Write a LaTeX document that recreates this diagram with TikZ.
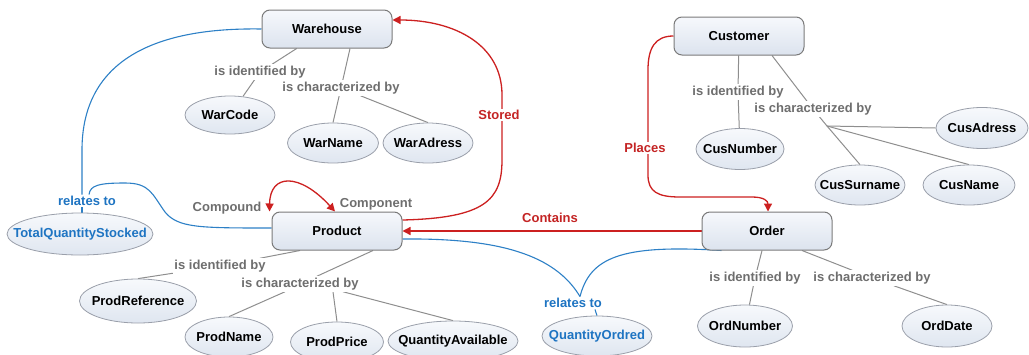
\documentclass[tikz,border=0pt]{standalone}
\usepackage{fontspec}
\setmainfont{Liberation Sans}
\usetikzlibrary{shapes.geometric,arrows.meta,backgrounds}
\definecolor{cborder}{HTML}{7A7A7A}
\definecolor{ctop}{HTML}{F6F8FC}
\definecolor{cbot}{HTML}{DCE3EE}
\definecolor{eborder}{HTML}{9A9FAA}
\definecolor{etop}{HTML}{F7F9FC}
\definecolor{ebot}{HTML}{DFE6F0}
\definecolor{lgray}{HTML}{6E6E6E}
\definecolor{lline}{HTML}{8E8E8E}
\definecolor{rline}{HTML}{CC2020}
\definecolor{rtext}{HTML}{C42424}
\definecolor{bline}{HTML}{2D80C6}
\definecolor{btext}{HTML}{1E74C2}
\begin{document}
\begin{tikzpicture}[x=1pt,y=-1pt,
  font=\fontsize{13}{15}\selectfont\bfseries,
  concept/.style={draw=cborder, line width=1pt, rounded corners=8pt, top color=ctop, bottom color=cbot, minimum width=130pt, minimum height=38pt, inner sep=0pt},
  attr/.style={ellipse, draw=eborder, line width=0.8pt, top color=etop, bottom color=ebot, inner xsep=-20pt, inner ysep=0pt, minimum height=40pt},
  lab/.style={text=lgray, fill=white, inner sep=1.5pt},
  plainlab/.style={text=lgray, inner sep=1.5pt},
  rlab/.style={text=rtext, fill=white, inner sep=1.5pt},
  blab/.style={text=btext, fill=white, inner sep=1.5pt},
  link/.style={draw=lline, line width=1pt},
  rlink/.style={draw=rline, line width=1.3pt, -{Triangle[length=8pt,width=8pt]}},
  blink/.style={draw=bline, line width=1.1pt},
]
\useasboundingbox (0,0) rectangle (1029,354);

% concepts
\node[concept] (warehouse) at (327,29) {Warehouse};
\node[concept] (customer) at (739,36) {Customer};
\node[concept] (product) at (337,231) {Product};
\node[concept] (order) at (767,231) {Order};

% attributes
\node[attr, minimum width=90pt, minimum height=38pt] (warcode) at (230,115) {WarCode};
\node[attr, minimum width=91pt] (warname) at (333,143) {WarName};
\node[attr, minimum width=90pt] (waradress) at (428,143) {WarAdress};
\node[attr, minimum width=88pt, minimum height=41pt] (cusnumber) at (740,149) {CusNumber};
\node[attr, minimum width=92pt, minimum height=41pt] (cusadress) at (982,128) {CusAdress};
\node[attr, minimum width=90pt] (cussurname) at (860,185) {CusSurname};
\node[attr, minimum width=92pt] (cusname) at (969,185) {CusName};
\node[attr, minimum width=146pt, minimum height=42pt, text=btext] (tqs) at (80,234) {TotalQuantityStocked};
\node[attr, minimum width=117pt, minimum height=44pt] (prodref) at (138,301) {ProdReference};
\node[attr, minimum width=88pt] (prodname) at (229,337) {ProdName};
\node[attr, minimum width=93pt] (prodprice) at (337,342) {ProdPrice};
\node[attr, minimum width=130pt] (qa) at (453,341) {QuantityAvailable};
\node[attr, minimum width=110pt, text=btext] (qo) at (597,336) {QuantityOrdred};
\node[attr, minimum width=95pt, minimum height=42pt] (ordnumber) at (745,326) {OrdNumber};
\node[attr, minimum width=90pt, minimum height=42pt] (orddate) at (947,326) {OrdDate};

% linking phrases
\node[lab] (lwi) at (260,72) {is identified by};
\node[lab] (lwc) at (341,88) {is characterized by};
\node[lab] (lci) at (738,92) {is identified by};
\node[lab] (lcc) at (813,109) {is characterized by};
\node[lab] (lpi) at (220,266) {is identified by};
\node[lab] (lpc) at (300,284) {is characterized by};
\node[lab] (loi) at (755,278) {is identified by};
\node[lab] (loc) at (872,278) {is characterized by};
\node[rlab] (lstored) at (499,115) {Stored};
\node[rlab] (lplaces) at (645,148) {Places};
\node[rlab] (lcontains) at (550,218) {Contains};
\node[plainlab] (lcompound) at (227,208) {Compound};
\node[plainlab] (lcomponent) at (376,204) {Component};
\node[blab] (lrel1) at (87,201) {relates to};
\node[blab] (lrel2) at (573,303) {relates to};
\coordinate (cbr) at (827,126);

\begin{pgfonlayer}{background}
% gray links
\draw[link] (warehouse) -- (lwi) -- (warcode);
\draw[link] ([xshift=23pt]warehouse.south) -- (lwc);
\draw[link] (lwc) -- (warname.north);
\draw[link] (lwc) -- (waradress.north);
\draw[link] (customer) -- (lci) -- (cusnumber);
\draw[link] ([xshift=33pt]customer.south) -- (lcc) -- (cbr);
\draw[link] (cbr) -- (cussurname.north);
\draw[link] (cbr) -- (cusname.north);
\draw[link] (cbr) -- (cusadress.west);
\draw[link] ([xshift=-37pt]product.south) -- (lpi) -- (prodref.north);
\draw[link] ([xshift=36pt]product.south) -- (lpc);
\draw[link] ([xshift=-15pt]lpc.south) -- (prodname.north);
\draw[link] ([xshift=33pt]lpc.south) -- (prodprice.north);
\draw[link] ([xshift=43pt]lpc.south) -- (qa.north);
\draw[link] (order) -- (loi) -- (ordnumber);
\draw[link] ([xshift=35pt]order.south) -- (loc) -- (orddate.north);

% red relations
\draw[rlink] ([yshift=11pt]product.east) .. controls (485,218) and (502,200) .. (502,160) -- (502,95) .. controls (502,45) and (455,20) .. ([yshift=9pt]warehouse.east);
\draw[rlink] (order.west) -- (product.east);
\draw[rlink] (customer.west) .. controls (655,36) and (648,48) .. (648,70) -- (648,175) .. controls (648,192) and (658,197) .. (680,197) -- (752,197) .. controls (764,197) and (768,201) .. ([xshift=1pt]order.north);
\draw[rlink, {Triangle[length=8pt,width=8pt]}-{Triangle[length=8pt,width=8pt]}] ([xshift=-2pt]product.north west) .. controls (270,173) and (300,173) .. ([xshift=-2pt]product.north);

% blue relations
\draw[blink] (warehouse.west) .. controls (140,27) and (82,70) .. (82,150) -- ([xshift=-5pt]lrel1.north);
\draw[blink] ([yshift=3pt]product.west) .. controls (200,228) and (178,228) .. (165,212) .. controls (152,194) and (150,183) .. (125,183) .. controls (100,183) and (90,185) .. ([xshift=2pt]lrel1.north);
\draw[blink] ([xshift=-5pt]lrel1.south) -- ([xshift=2pt]tqs.north);
\draw[blink] ([yshift=-8pt]product.east) .. controls (500,238) and (555,255) .. ([xshift=7pt]lrel2.north);
\draw[blink] ([xshift=20pt]order.south west) .. controls (620,244) and (590,258) .. ([xshift=7pt]lrel2.north);
\draw[blink] ([xshift=22pt]lrel2.south) -- (qo.north);
\end{pgfonlayer}
\end{tikzpicture}
\end{document}
